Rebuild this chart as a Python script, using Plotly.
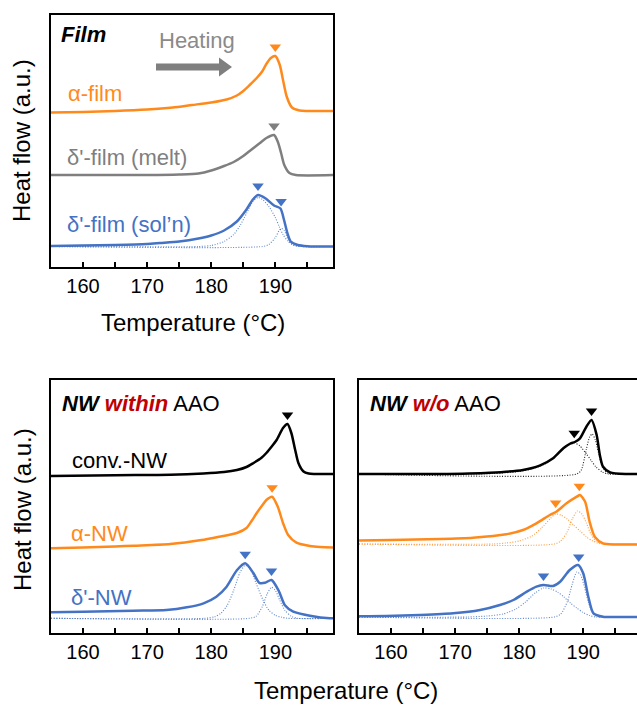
import numpy as np
import plotly.graph_objects as go

W, H = 637, 705

ORANGE = "#FF8A1C"
GRAY = "#7F7F7F"
BLUE = "#4472C4"
BLACK = "#000000"
DARKRED = "#C00000"
FONT = "Arial, Liberation Sans, sans-serif"

# ---------------- Film panel ----------------
alpha_film_T = [155, 160, 165, 170, 174, 177, 180, 182.4, 184, 185, 186, 187.1, 188, 188.6, 189.3, 190, 190.7, 191.2, 191.8, 192.6, 193.8, 195, 199]
alpha_film_h = [-1.5, -1, 0, 1.5, 3.5, 6, 8.5, 11.5, 15.5, 20, 26, 33, 40, 47, 53, 55, 46, 31, 14, 3.5, 0.5, 0, 0]

melt_film_T = [155, 170, 175, 178, 180, 182, 183.5, 185, 186, 187.6, 188.6, 189.8, 190.4, 190.9, 191.4, 192.2, 193.2, 199]
melt_film_h = [0, 0, 0.5, 1.5, 4.5, 9, 13, 19, 24, 32, 37, 40, 33, 22, 10, 2, 0, 0]

soln_film_T = [155, 160, 165, 170, 172, 175, 178, 180, 182, 184, 185.5, 186.5, 187.3, 188.5, 189.8, 190.8, 191.3, 191.9, 192.4, 193.5, 195, 199]
soln_film_h = [0.5, 1, 1.5, 2.5, 3.5, 5, 8, 11, 16, 25, 37, 47, 51.5, 48, 41, 38, 28, 13, 5, 1.5, 0.3, 0]
soln_c1_T = [155, 178, 180, 182, 183.5, 184.5, 185.5, 186.5, 187.3, 188, 189, 190, 190.6, 191.2, 192, 193, 194, 199]
soln_c1_h = [0, 0, 1, 5, 12, 21, 33, 45, 49, 47, 40, 29, 20, 12, 5, 1, 0, 0]
soln_c2_T = [155, 188, 189, 190, 190.6, 191, 191.4, 192, 192.6, 193.5, 194, 199]
soln_c2_h = [0, 0, 2, 9, 16, 18, 16, 7, 2, 0.3, 0, 0]

# ---------------- NW within AAO ----------------
conv_in_T = [155, 165, 173.6, 178.8, 182, 184, 185.5, 186.6, 187.8, 188.6, 189.5, 190.2, 191.2, 191.9, 192.5, 193.1, 193.6, 194.4, 195.2, 196, 199]
conv_in_h = [-2, -1.2, -0.8, 0.5, 2, 4, 7, 11, 16, 21, 28, 34, 46, 50, 41, 24, 11, 2.5, 0.5, 0, 0]

alpha_in_T = [155, 160, 165, 168, 173.6, 178.5, 181, 184, 185.5, 186.3, 187.1, 188, 188.6, 189.5, 190.4, 191.2, 192, 193.3, 195.4, 197, 199]
alpha_in_h = [-0.3, 0.5, 1.5, 2.3, 4, 8, 11, 15, 20, 27, 35, 43, 48, 51.3, 41, 25, 13, 5.3, 2, 1, 0.5]

delta_in_T = [155, 160, 167.8, 173, 176.2, 178.8, 180.8, 182.4, 184, 185.3, 186.6, 187.5, 188.4, 189.4, 190.5, 191.5, 192.8, 195.4, 198.5, 199]
delta_in_h = [6, 6.5, 7.6, 8.3, 11, 15, 21.6, 31.6, 48, 55, 45, 35.5, 35.5, 38.3, 28, 13, 6.6, 2.6, 0, 0]
delta_in_c1_T = [155, 179, 180.5, 181.5, 182.5, 183.5, 184.5, 185.3, 186, 187, 188.1, 189, 190, 191, 192, 199]
delta_in_c1_h = [0, 0, 1.5, 5, 13, 28, 46, 53, 50, 35, 18, 8, 3, 1, 0, 0]
delta_in_c2_T = [155, 186, 187, 188, 188.7, 189.4, 190, 190.7, 191.5, 192.5, 193.5, 199]
delta_in_c2_h = [0, 0, 2, 12, 24, 31, 28, 18, 8, 2, 0, 0]

# ---------------- NW w/o AAO ----------------
conv_out_T = [155, 167.6, 175.4, 180.6, 183.2, 185.3, 186.9, 188, 188.7, 189.5, 190.5, 191.3, 192.1, 192.6, 193.1, 194.2, 196.8, 198.4]
conv_out_h = [0, 0, 1.3, 4, 8.3, 15.7, 25.7, 30.5, 32, 35.7, 47.3, 54, 39, 19, 7.3, 1.7, 0, 0]
conv_out_c1_T = [155, 172, 176, 180, 182, 184, 185.5, 186.8, 188, 188.7, 189.5, 190.5, 191.3, 192, 193, 194, 198.4]
conv_out_c1_h = [0, 0, 0.5, 2.5, 5, 10, 17, 25, 30, 31, 28, 20, 13, 7, 2, 0, 0]
conv_out_c2_T = [155, 189, 189.7, 190.5, 191, 191.4, 191.9, 192.5, 193, 193.8, 195, 198.4]
conv_out_c2_h = [0, 0, 4, 25, 37, 40, 34, 18, 7, 1, 0, 0]

alpha_out_T = [155, 160, 167.6, 172.8, 178, 180.6, 182.7, 184.8, 185.8, 187.4, 189, 189.5, 190.3, 191, 191.8, 193.1, 195, 198.4]
alpha_out_h = [3.5, 4, 5, 6.3, 9.7, 14, 20.7, 29, 32.3, 40.7, 47.3, 49, 42.3, 22.3, 7.3, 0.7, -0.5, -0.5]
alpha_out_c1_T = [155, 176, 178, 180, 182, 183.5, 184.8, 185.7, 186.5, 187.5, 188.5, 189.5, 190.5, 191.5, 192.5, 194, 198.4]
alpha_out_c1_h = [0, 0, 1, 3, 8, 16, 25, 30, 29, 25, 19, 13, 7, 3, 0.5, 0, 0]
alpha_out_c2_T = [155, 185.5, 186.5, 187.5, 188.3, 189.1, 189.8, 190.5, 191.2, 192, 193, 194, 198.4]
alpha_out_c2_h = [0, 0, 3, 12, 25, 33, 30, 21, 10, 3, 0.5, 0, 0]

delta_out_T = [155, 159.3, 164.5, 169.7, 173.9, 177, 179.1, 181.2, 182.7, 183.8, 185.3, 186.4, 187.9, 189.2, 190, 190.8, 191.6, 193.1, 195, 198.4]
delta_out_h = [0.8, 1, 2, 3.7, 7, 12, 17, 25.3, 30.3, 32, 31, 35.3, 47, 52, 43.7, 20.3, 3.7, 0.3, 0, 0]
delta_out_c1_T = [155, 172, 175, 177.5, 179.5, 181, 182.5, 183.8, 185, 186, 187, 188, 189, 190, 191, 192, 198.4]
delta_out_c1_h = [0, 0, 1, 3, 8, 15, 24, 29, 28, 25, 20, 14, 9, 4.5, 1.5, 0, 0]
delta_out_c2_T = [155, 185.5, 186.5, 187.5, 188.3, 189, 189.6, 190.2, 190.8, 191.4, 192, 193, 198.4]
delta_out_c2_h = [0, 0, 3, 15, 33, 45, 42, 30, 15, 5, 1, 0, 0]

# Melting peak positions marked with triangles
peaks = {
    "alpha_film": [190.0], "melt_film": [189.8], "soln_film": [187.3, 190.9],
    "conv_in": [191.9], "alpha_in": [189.5], "delta_in": [185.3, 189.4],
    "conv_out": [188.6, 191.3], "alpha_out": [185.7, 189.4], "delta_out": [183.8, 189.3],
}

# Vertical stacking offsets (a.u.)
offsets = {
    "alpha_film": 156, "melt_film": 92, "soln_film": 20.5,
    "conv_in": 159, "alpha_in": 85, "delta_in": 14.7,
    "conv_out": 159, "alpha_out": 89, "delta_out": 16,
}

fig = go.Figure()


def curve(ax, T, h, off, color, dotted=False):
    fig.add_trace(go.Scatter(
        x=T, y=np.array(h) + off, mode="lines",
        line=dict(color=color, width=1.1 if dotted else 2.5,
                  dash="1px,1.6px" if dotted else "solid", shape="spline", smoothing=0.7),
        opacity=0.85 if dotted else 1.0,
        xaxis="x" + ax, yaxis="y" + ax, showlegend=False, hoverinfo="skip"))


def marks(ax, key, T, h, color):
    px = peaks[key]
    py = np.interp(px, T, h) + offsets[key] + 9
    fig.add_trace(go.Scatter(
        x=px, y=py, mode="markers",
        marker=dict(symbol="triangle-down", size=10, color=color),
        xaxis="x" + ax, yaxis="y" + ax, showlegend=False, hoverinfo="skip"))


# Film
curve("", alpha_film_T, alpha_film_h, offsets["alpha_film"], ORANGE)
curve("", melt_film_T, melt_film_h, offsets["melt_film"], GRAY)
curve("", soln_c1_T, soln_c1_h, offsets["soln_film"], BLUE, dotted=True)
curve("", soln_c2_T, soln_c2_h, offsets["soln_film"], BLUE, dotted=True)
curve("", soln_film_T, soln_film_h, offsets["soln_film"], BLUE)
marks("", "alpha_film", alpha_film_T, alpha_film_h, ORANGE)
marks("", "melt_film", melt_film_T, melt_film_h, GRAY)
marks("", "soln_film", soln_film_T, soln_film_h, BLUE)

# NW within AAO
curve("2", conv_in_T, conv_in_h, offsets["conv_in"], BLACK)
curve("2", alpha_in_T, alpha_in_h, offsets["alpha_in"], ORANGE)
curve("2", delta_in_c1_T, delta_in_c1_h, offsets["delta_in"], BLUE, dotted=True)
curve("2", delta_in_c2_T, delta_in_c2_h, offsets["delta_in"], BLUE, dotted=True)
curve("2", delta_in_T, delta_in_h, offsets["delta_in"], BLUE)
marks("2", "conv_in", conv_in_T, conv_in_h, BLACK)
marks("2", "alpha_in", alpha_in_T, alpha_in_h, ORANGE)
marks("2", "delta_in", delta_in_T, delta_in_h, BLUE)

# NW w/o AAO
curve("3", conv_out_c1_T, conv_out_c1_h, offsets["conv_out"], BLACK, dotted=True)
curve("3", conv_out_c2_T, conv_out_c2_h, offsets["conv_out"], BLACK, dotted=True)
curve("3", conv_out_T, conv_out_h, offsets["conv_out"], BLACK)
curve("3", alpha_out_c1_T, alpha_out_c1_h, offsets["alpha_out"], ORANGE, dotted=True)
curve("3", alpha_out_c2_T, alpha_out_c2_h, offsets["alpha_out"], ORANGE, dotted=True)
curve("3", alpha_out_T, alpha_out_h, offsets["alpha_out"], ORANGE)
curve("3", delta_out_c1_T, delta_out_c1_h, offsets["delta_out"], BLUE, dotted=True)
curve("3", delta_out_c2_T, delta_out_c2_h, offsets["delta_out"], BLUE, dotted=True)
curve("3", delta_out_T, delta_out_h, offsets["delta_out"], BLUE)
marks("3", "conv_out", conv_out_T, conv_out_h, BLACK)
marks("3", "alpha_out", alpha_out_T, alpha_out_h, ORANGE)
marks("3", "delta_out", delta_out_T, delta_out_h, BLUE)


def px_x(x):
    return x / W


def px_y(y):
    return 1 - y / H


def xaxis(dom, rng, mirror=True):
    return dict(domain=[px_x(dom[0]), px_x(dom[1])], range=rng, showline=True, linecolor="black",
                linewidth=2, mirror=mirror, ticks="inside", ticklen=5, tickwidth=1.5, tickcolor="black",
                tick0=160, dtick=10, showgrid=False, zeroline=False,
                tickfont=dict(family=FONT, size=20, color="black"),
                minor=dict(dtick=5, tick0=155, ticks="inside", ticklen=5, tickwidth=1.5, tickcolor="black"))


def yaxis(dom, rng, anchor, mirror=True):
    return dict(domain=[px_y(dom[1]), px_y(dom[0])], range=rng, showline=True, linecolor="black",
                linewidth=2, mirror=mirror, ticks="", showticklabels=False, showgrid=False,
                zeroline=False, anchor=anchor)


fig.update_layout(
    width=W, height=H, margin=dict(l=0, r=0, t=0, b=0),
    paper_bgcolor="white", plot_bgcolor="white",
    xaxis=dict(xaxis((51, 333), [155, 199]), anchor="y"),
    yaxis=yaxis((15, 267), [0, 252], "x"),
    xaxis2=dict(xaxis((51, 333), [155, 199]), anchor="y2"),
    yaxis2=yaxis((380, 633), [0, 253], "x2"),
    xaxis3=dict(xaxis((359, 637), [155, 198.4]), anchor="y3"),
    yaxis3=yaxis((380, 633), [0, 253], "x3", mirror=False),
)

anns = []


def text(t, x, y, size=22, color="black", xanchor="left", angle=0):
    anns.append(dict(text=t, x=px_x(x), y=px_y(y), xref="paper", yref="paper",
                     xanchor=xanchor, yanchor="middle", showarrow=False, textangle=angle,
                     font=dict(family=FONT, size=size, color=color)))


text("<b><i>Film</i></b>", 59, 35)
text("Heating", 157, 41, color="#8A8A8A")
text("α-film", 66, 94, color=ORANGE)
text("δ'-film (melt)", 65, 157, color=GRAY)
text("δ'-film (sol’n)", 65, 224, color=BLUE)

text("<b><i>NW <span style='color:%s'>within</span></i></b> AAO" % DARKRED, 60, 403)
text("conv.-NW", 70, 460)
text("α-NW", 69, 533, color=ORANGE)
text("δ'-NW", 69, 597, color=BLUE)
text("<b><i>NW <span style='color:%s'>w/o</span></i></b> AAO" % DARKRED, 368, 403)

text("Heat flow (a.u.)", 22, 141, size=24, xanchor="center", angle=-90)
text("Heat flow (a.u.)", 22, 510, size=24, xanchor="center", angle=-90)
text("Temperature (°C)", 193, 322, size=24, xanchor="center")
text("Temperature (°C)", 346, 690, size=24, xanchor="center")

fig.update_layout(annotations=anns)

# "Heating" direction arrow
x0, x1, x2 = 156, 219, 232
yc, sh, hh = 67, 3.5, 9.5
pts = [(x0, yc - sh), (x1, yc - sh), (x1, yc - hh), (x2, yc), (x1, yc + hh), (x1, yc + sh), (x0, yc + sh)]
path = "M " + " L ".join("%.5f,%.5f" % (px_x(a), px_y(b)) for a, b in pts) + " Z"
fig.add_shape(type="path", path=path, xref="paper", yref="paper",
              fillcolor=GRAY, line=dict(width=0))

fig.write_html("out.html")
